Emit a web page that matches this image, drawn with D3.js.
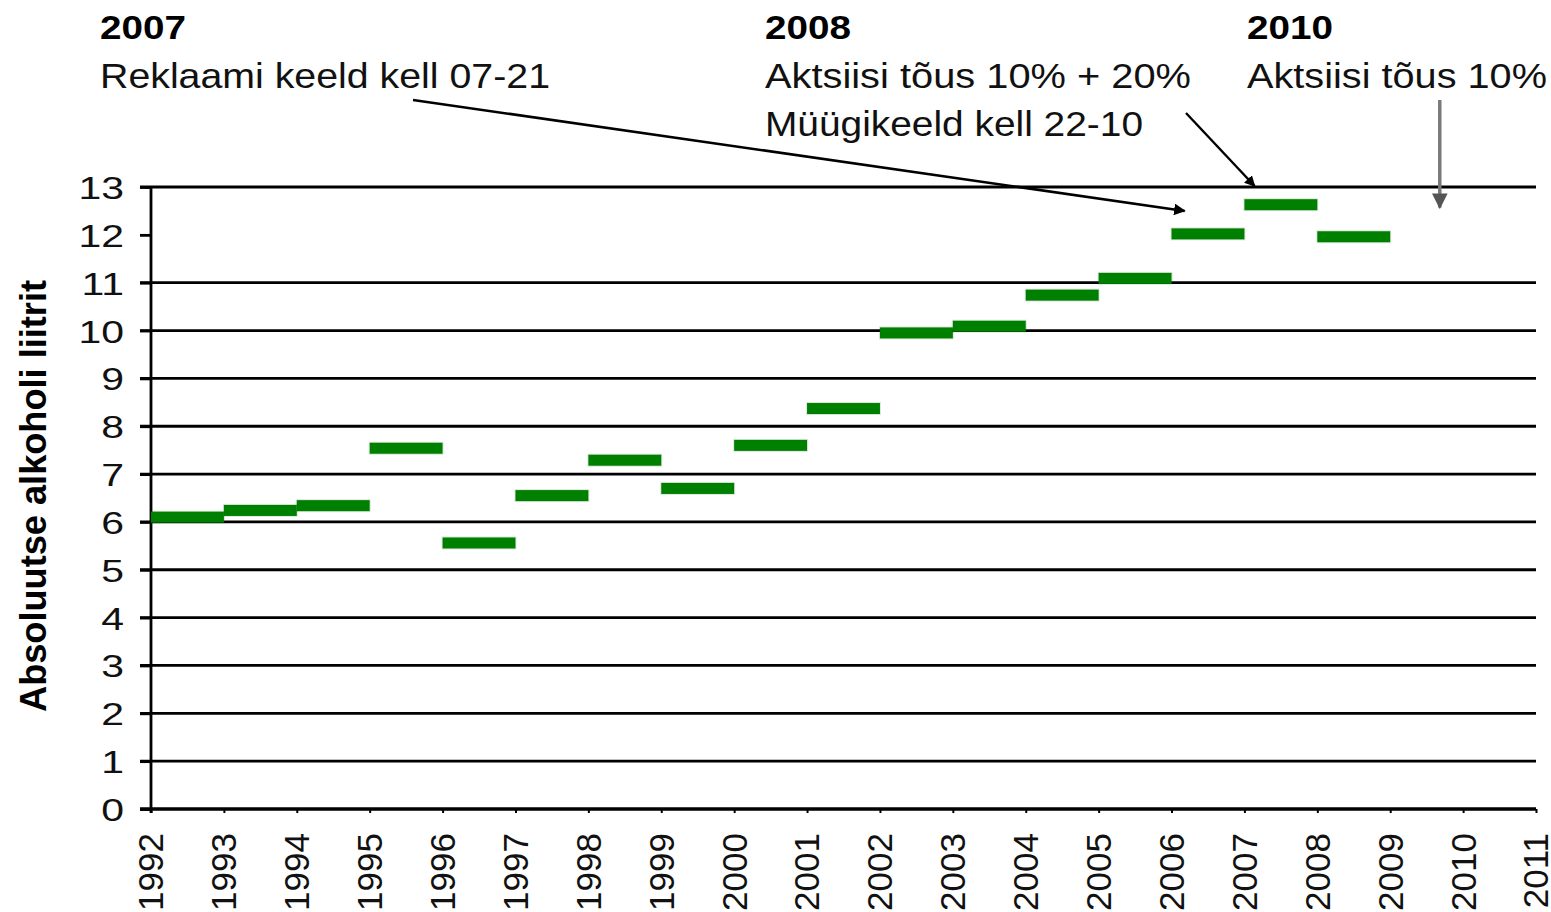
<!DOCTYPE html>
<html>
<head>
<meta charset="utf-8">
<script src="https://cdn.jsdelivr.net/npm/d3@7"></script>
<style>
  html, body { margin: 0; padding: 0; background: #fff; }
  svg { display: block; font-family: "Liberation Sans", Arial, sans-serif; }
</style>
</head>
<body>
<svg id="chart" width="1551" height="912"></svg>
<script>
// ---- data ----
const years = [1992, 1993, 1994, 1995, 1996, 1997, 1998, 1999, 2000, 2001, 2002, 2003, 2004, 2005, 2006, 2007, 2008];
const values = [6.10, 6.24, 6.34, 7.54, 5.56, 6.55, 7.29, 6.70, 7.60, 8.37, 9.95, 10.09, 10.74, 11.09, 12.02, 12.63, 11.96];
const xTickYears = [1992, 1993, 1994, 1995, 1996, 1997, 1998, 1999, 2000, 2001, 2002, 2003, 2004, 2005, 2006, 2007, 2008, 2009, 2010, 2011];
const yTicks = [0, 1, 2, 3, 4, 5, 6, 7, 8, 9, 10, 11, 12, 13];
const gridValues = [0, 1, 2, 3, 4, 5, 6, 7, 8, 9, 10, 11, 13];
const yTitle = "Absoluutse alkoholi liitrit";
const noteYears = ["2007", "2008", "2010"];
const noteLines = [
  ["Reklaami keeld kell 07-21"],
  ["Aktsiisi tõus 10% + 20%", "Müügikeeld kell 22-10"],
  ["Aktsiisi tõus 10%"]
];

// ---- layout ----
const svg = d3.select("#chart");
const x = d3.scaleLinear().domain([1992, 2011]).range([151, 1536]);
const y = d3.scaleLinear().domain([0, 13]).range([809, 187]);

// defs: arrowheads
const defs = svg.append("defs");
function marker(id, color) {
  defs.append("marker").attr("id", id)
    .attr("viewBox", "0 0 10 10").attr("refX", 9).attr("refY", 5)
    .attr("markerWidth", 4.5).attr("markerHeight", 4.5).attr("orient", "auto")
    .attr("markerUnits", "strokeWidth")
    .append("path").attr("d", "M0,0 L10,5 L0,10 z").attr("fill", color);
}
marker("ahBlack", "#000");
marker("ahGray", "#555");

// grid lines
svg.append("g").selectAll("line").data(gridValues).join("line")
  .attr("x1", 140).attr("x2", x(2011))
  .attr("y1", d => y(d)).attr("y2", d => y(d))
  .attr("stroke", "#000").attr("stroke-width", 2.8);

// y axis
const yAxis = svg.append("g").attr("transform", `translate(${x(1992)},0)`)
  .call(d3.axisLeft(y).tickValues(yTicks).tickSize(11).tickFormat(d3.format("d")));
yAxis.select(".domain").attr("stroke", "#000").attr("stroke-width", 2.8)
  .attr("d", `M0,${y(13)}V${y(0) + 4}`);
yAxis.selectAll(".tick line").attr("stroke", "#000").attr("stroke-width", 2.8);
yAxis.selectAll(".tick text")
  .attr("x", 0).attr("dy", "0.36em")
  .attr("transform", "translate(-27,0) scale(1.28,1)")
  .attr("text-anchor", "end")
  .attr("font-family", "'Liberation Sans', Arial, sans-serif")
  .attr("font-size", 32).attr("fill", "#111");

// x axis
const xAxis = svg.append("g").attr("transform", `translate(0,${y(0)})`)
  .call(d3.axisBottom(x).tickValues(xTickYears).tickSize(4).tickFormat(d3.format("d")));
xAxis.select(".domain").attr("stroke", "#000").attr("stroke-width", 2.8)
  .attr("d", `M140,0H${x(2011)}`);
xAxis.selectAll(".tick line").attr("stroke", "#000").attr("stroke-width", 2);
xAxis.selectAll(".tick text")
  .attr("transform", "rotate(-90)")
  .attr("x", -24).attr("y", 0).attr("dy", "0.34em")
  .attr("text-anchor", "end")
  .attr("font-family", "'Liberation Sans', Arial, sans-serif")
  .attr("font-size", 35).attr("fill", "#111");

// bars (horizontal dashes spanning each year)
const barH = 11;
svg.append("g").selectAll("rect").data(years).join("rect")
  .attr("x", d => x(d))
  .attr("width", d => x(d + 1) - x(d))
  .attr("y", (d, i) => y(values[i]) - barH / 2)
  .attr("height", barH)
  .attr("fill", "#008000")
  .attr("stroke", "rgba(0,110,0,0.15)").attr("stroke-width", 2);

// y axis title
svg.append("text")
  .attr("transform", `translate(46,${(280 + 712) / 2}) rotate(-90)`)
  .attr("text-anchor", "middle")
  .attr("font-size", 36).attr("font-weight", "bold")
  .attr("textLength", 432).attr("lengthAdjust", "spacingAndGlyphs")
  .text(yTitle);

// annotations
const noteX = [100, 765, 1247];
const yearW = [86, 86, 86];
const lineW = [[450], [426, 378], [300]];
const baseLines = [39, 88, 136];
noteYears.forEach((yr, i) => {
  svg.append("text").attr("x", noteX[i]).attr("y", baseLines[0])
    .attr("font-size", 34).attr("font-weight", "bold")
    .attr("textLength", yearW[i]).attr("lengthAdjust", "spacingAndGlyphs")
    .text(yr);
  noteLines[i].forEach((t, j) => {
    svg.append("text").attr("x", noteX[i]).attr("y", baseLines[j + 1])
      .attr("font-size", 35).attr("fill", "#111")
      .attr("textLength", lineW[i][j]).attr("lengthAdjust", "spacingAndGlyphs")
      .text(t);
  });
});

// arrows
svg.append("line")
  .attr("x1", 413).attr("y1", 100)
  .attr("x2", x(2006.18)).attr("y2", y(12.5))
  .attr("stroke", "#000").attr("stroke-width", 2.6)
  .attr("marker-end", "url(#ahBlack)");
svg.append("line")
  .attr("x1", 1186).attr("y1", 113)
  .attr("x2", x(2007.14)).attr("y2", y(13.02))
  .attr("stroke", "#000").attr("stroke-width", 2.4)
  .attr("marker-end", "url(#ahBlack)");
svg.append("line")
  .attr("x1", x(2009.68)).attr("y1", 100)
  .attr("x2", x(2009.68)).attr("y2", y(12.57))
  .attr("stroke", "#7a7a7a").attr("stroke-width", 3.5)
  .attr("marker-end", "url(#ahGray)");
</script>
</body>
</html>
